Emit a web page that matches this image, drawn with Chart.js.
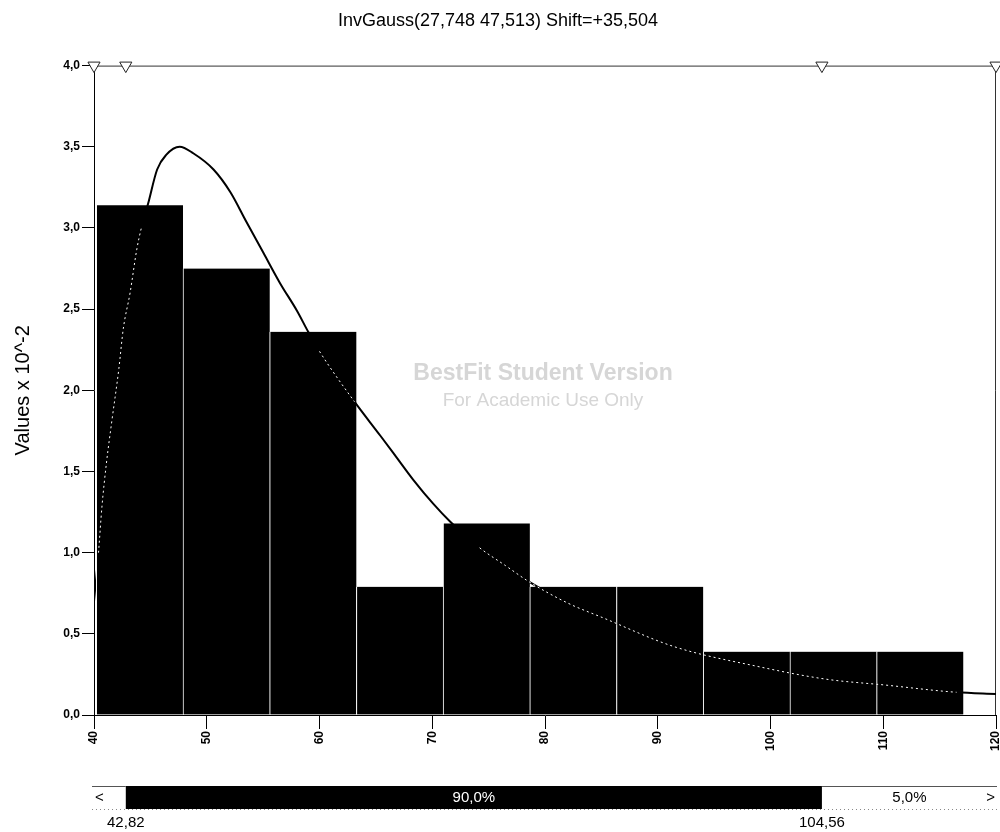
<!DOCTYPE html>
<html>
<head>
<meta charset="utf-8">
<title>InvGauss fit</title>
<script src="https://cdn.jsdelivr.net/npm/chart.js@4.4.1/dist/chart.umd.min.js"></script>
<style>
  html, body { margin: 0; padding: 0; background: #fff; }
  #wrap { width: 1000px; height: 832px; }
</style>
</head>
<body>
<div id="wrap"><canvas id="chart" width="1000" height="832"></canvas></div>
<script>
// ── Values (y in units of 10^-2) ──────────────────────────
const titleText  = 'InvGauss(27,748 47,513) Shift=+35,504';
const yAxisTitle = 'Values x 10^-2';
const watermark  = ['BestFit Student Version', 'For Academic Use Only'];

const binCenters = [44.05, 51.74, 59.43, 67.12, 74.81, 82.50, 90.19, 97.88, 105.57, 113.26];
const barValues  = [3.14, 2.75, 2.36, 0.79, 1.18, 0.79, 0.79, 0.39, 0.39, 0.39];

const curveX = [40.0, 40.4, 40.7, 41.1, 41.6, 42.2, 42.6, 43.2, 43.8, 44.2, 44.8, 45.6,
                46.4, 47.6, 48.8, 50.6, 52.1, 53.5, 55.0, 56.5, 58.0, 59.0, 60.0, 63.1,
                65.4, 66.8, 68.3, 70.1, 71.6, 74.2, 76.5, 78.6, 82.0, 85.1, 91.5, 98.8,
                105.0, 110.1, 116.5, 120.0];
const curveY = [0.70, 1.00, 1.28, 1.55, 1.82, 2.13, 2.38, 2.60, 2.87, 3.00, 3.15, 3.36,
                3.45, 3.50, 3.46, 3.36, 3.22, 3.04, 2.85, 2.66, 2.49, 2.36, 2.24, 1.93,
                1.72, 1.59, 1.45, 1.30, 1.19, 1.03, 0.92, 0.82, 0.69, 0.60, 0.42, 0.30,
                0.22, 0.185, 0.14, 0.13];

const xTickValues = [40, 50, 60, 70, 80, 90, 100, 110, 120];
const yTickValues = [0, 0.5, 1, 1.5, 2, 2.5, 3, 3.5, 4];

const markerX    = [40, 42.82, 104.56, 120];
const pctBounds  = [42.82, 104.56];
const pctLabels  = ['90,0%', '5,0%'];

const FONT = '"Liberation Sans", Arial, sans-serif';
const comma = (v, d) => v.toFixed(d).replace('.', ',');

// Is a curve point under the top of the bar it sits in?
const halfBin = (binCenters[1] - binCenters[0]) / 2;
function underBar(p) {
  for (let i = 0; i < binCenters.length; i++) {
    if (Math.abs(p.x - binCenters[i]) <= halfBin) return p.y < barValues[i];
  }
  return false;
}

// ── Frame, watermark and the percentile strip ─────────────
const decorations = {
  id: 'decorations',
  beforeDatasetsDraw(chart) {
    const { ctx, chartArea: a } = chart;
    ctx.save();
    ctx.fillStyle = '#d6d6d6';
    ctx.textAlign = 'center';
    ctx.textBaseline = 'middle';
    ctx.font = 'bold 23px ' + FONT;
    ctx.fillText(watermark[0], 543, 374);
    ctx.font = '19px ' + FONT;
    ctx.fillText(watermark[1], 543, 401);

    ctx.strokeStyle = '#333';
    ctx.lineWidth = 1;
    ctx.beginPath();
    ctx.moveTo(a.left, a.top + 0.5);
    ctx.lineTo(a.right, a.top + 0.5);
    ctx.moveTo(a.right - 0.5, a.top);
    ctx.lineTo(a.right - 0.5, a.bottom);
    ctx.stroke();
    ctx.restore();
  },
  afterDraw(chart) {
    const { ctx, chartArea: a } = chart;
    const xs = chart.scales.x;
    const x0 = a.left - 2, x3 = a.right + 1;
    const x1 = xs.getPixelForValue(pctBounds[0]);
    const x2 = xs.getPixelForValue(pctBounds[1]);
    const top = 786, bot = 809, mid = (top + bot) / 2;

    ctx.save();
    ctx.fillStyle = '#000';
    ctx.fillRect(x1, top, x2 - x1, bot - top);

    ctx.strokeStyle = '#555';
    ctx.lineWidth = 1;
    ctx.beginPath();
    ctx.moveTo(x0, top + 0.5); ctx.lineTo(x1, top + 0.5);
    ctx.moveTo(x2, top + 0.5); ctx.lineTo(x3, top + 0.5);
    ctx.stroke();

    ctx.setLineDash([1, 3]);
    ctx.strokeStyle = '#888';
    ctx.beginPath();
    ctx.moveTo(x0, bot + 0.5); ctx.lineTo(x3, bot + 0.5);
    ctx.stroke();
    ctx.setLineDash([]);

    ctx.font = '15px ' + FONT;
    ctx.textBaseline = 'middle';
    ctx.textAlign = 'center';
    ctx.fillStyle = '#fff';
    ctx.fillText(pctLabels[0], (x1 + x2) / 2, mid);
    ctx.fillStyle = '#000';
    ctx.fillText(pctLabels[1], (x2 + x3) / 2, mid);
    ctx.textAlign = 'left';
    ctx.fillText('<', x0 + 3, mid);
    ctx.textAlign = 'right';
    ctx.fillText('>', x3 - 2, mid);

    ctx.textAlign = 'center';
    ctx.fillText(comma(pctBounds[0], 2), x1, 823);
    ctx.fillText(comma(pctBounds[1], 2), x2, 823);
    ctx.restore();
  },
};

const curvePts = curveX.map((x, i) => ({ x, y: curveY[i] }));

new Chart(document.getElementById('chart'), {
  type: 'bar',
  data: {
    datasets: [
      // markers on the top edge
      {
        type: 'line',
        data: markerX.map(x => ({ x, y: 4 })),
        showLine: false,
        pointStyle: 'triangle',
        pointRotation: 180,
        pointRadius: 7,
        pointBackgroundColor: '#fff',
        pointBorderColor: '#222',
        pointBorderWidth: 1,
        clip: false,
        order: -1,
      },
      // the fitted curve, seen through the bars as a light dotted trace
      {
        type: 'line',
        data: curvePts,
        borderColor: '#fff',
        borderWidth: 1,
        borderDash: [2, 3],
        pointRadius: 0,
        cubicInterpolationMode: 'monotone',
        segment: {
          borderColor: ctx => (underBar(ctx.p0.parsed) && underBar(ctx.p1.parsed)) ? '#fff' : 'rgba(0,0,0,0)',
        },
        order: 0,
      },
      {
        type: 'bar',
        data: binCenters.map((x, i) => ({ x, y: barValues[i] })),
        backgroundColor: '#000',
        borderColor: '#fff',
        borderWidth: { left: 1, right: 0, top: 0, bottom: 0 },
        borderSkipped: false,
        barPercentage: 1,
        categoryPercentage: 1,
        order: 1,
      },
      {
        type: 'line',
        data: curvePts,
        borderColor: '#000',
        borderWidth: 2,
        pointRadius: 0,
        cubicInterpolationMode: 'monotone',
        order: 2,
      },
    ],
  },
  options: {
    responsive: false,
    animation: false,
    events: [],
    layout: { autoPadding: false, padding: { left: 0, right: 4, top: 0, bottom: 0 } },
    plugins: {
      legend: { display: false },
      tooltip: { enabled: false },
      title: {
        display: true,
        text: titleText,
        color: '#000',
        font: { family: FONT, size: 18, weight: 'normal' },
        padding: { top: 10, bottom: 34 },
      },
    },
    scales: {
      x: {
        type: 'linear',
        min: 40,
        max: 120,
        offset: false,
        afterBuildTicks: s => { s.ticks = xTickValues.map(v => ({ value: v })); },
        afterFit: s => { s.height = 117; s.paddingLeft = 0; s.paddingRight = 0; },
        grid: { offset: false, drawOnChartArea: false, tickLength: 14, color: '#000' },
        border: { display: true, color: '#000', width: 1 },
        ticks: {
          minRotation: 90,
          maxRotation: 90,
          padding: 2,
          color: '#000',
          font: { family: FONT, size: 12, weight: 'bold' },
          callback: v => String(v),
        },
      },
      y: {
        min: 0,
        max: 4,
        afterBuildTicks: s => { s.ticks = yTickValues.map(v => ({ value: v })); },
        afterFit: s => { s.width = 94; },
        grid: { drawOnChartArea: false, tickLength: 12, color: '#000' },
        border: { display: true, color: '#000', width: 1 },
        ticks: {
          padding: 2,
          color: '#000',
          font: { family: FONT, size: 12, weight: 'bold' },
          callback: v => comma(v, 1),
        },
        title: {
          display: true,
          text: yAxisTitle,
          color: '#000',
          font: { family: FONT, size: 20 },
          padding: { top: 11, bottom: 0 },
        },
      },
    },
  },
  plugins: [decorations],
});
</script>
</body>
</html>
